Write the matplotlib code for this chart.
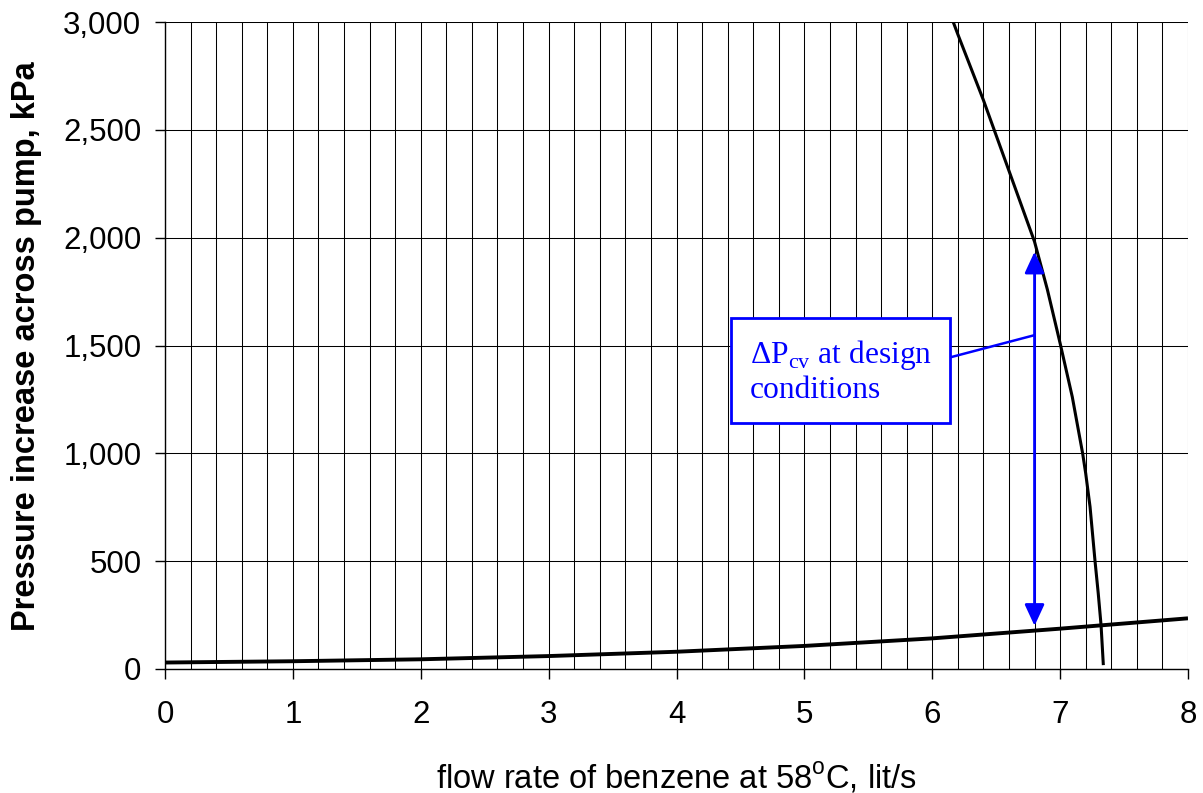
import matplotlib
matplotlib.use("Agg")
import matplotlib.pyplot as plt
from matplotlib.ticker import MultipleLocator, FuncFormatter

plt.rcParams['font.family'] = ['Liberation Sans', 'DejaVu Sans']
plt.rcParams['mathtext.fontset'] = 'custom'
plt.rcParams['mathtext.rm'] = 'Liberation Serif'
plt.rcParams['mathtext.sf'] = 'Liberation Sans'

# system curve (flow lit/s, kPa)
sys_flow = [0, 1, 2, 3, 4, 5, 6, 7, 8]
sys_dp = [30, 36, 45, 60, 80, 107, 142, 187, 235]

# pump curve
pump_flow = [6.164, 6.2, 6.4, 6.6, 6.8, 6.9, 7.0, 7.095, 7.176, 7.2, 7.234, 7.273, 7.298, 7.32, 7.338]
pump_dp = [3000, 2943, 2638, 2310, 1981, 1760, 1510, 1262, 1000, 907, 752, 500, 351, 204, 18]

# design point / dP_cv arrow
q_design = 6.8
dp_low, dp_high = 200, 1935

fig = plt.figure(figsize=(12.03, 7.93), dpi=100)
ax = fig.add_axes([165/1203, 1-669/793, 1023/1203, 647/793])

ax.plot(sys_flow, sys_dp, color='black', lw=2.8, solid_capstyle='butt')
ax.plot(pump_flow, pump_dp, color='black', lw=2.2, solid_capstyle='butt')

ax.set_xlim(0, 8)
ax.set_ylim(0, 3000)
ax.xaxis.set_major_locator(MultipleLocator(1))
ax.xaxis.set_minor_locator(MultipleLocator(0.2))
ax.yaxis.set_major_locator(MultipleLocator(500))
ax.yaxis.set_major_formatter(FuncFormatter(lambda v, p: f'{v:,.0f}'))

ax.grid(True, which='both', axis='x', color='black', lw=0.75)
ax.grid(True, which='major', axis='y', color='black', lw=0.75)
ax.set_axisbelow(True)

for s in ['top', 'right']:
    ax.spines[s].set_visible(False)
for s in ['left', 'bottom']:
    ax.spines[s].set_linewidth(1.0)

ax.tick_params(axis='both', which='major', direction='out', length=7, width=1,
               labelsize=22.5, color='black')
ax.tick_params(axis='x', which='major', pad=15)
ax.tick_params(axis='y', which='major', pad=10)
ax.tick_params(axis='x', which='minor', length=0)

fig.text(27/1203, 1-346/793, 'Pressure increase across pump, kPa', rotation=90,
         ha='center', va='center', fontsize=23.5, fontweight='bold')
fig.text(676/1203, 1-788/793, r'flow rate of benzene at 58$^{\mathsf{o}}$C, lit/s',
         ha='center', va='baseline', fontsize=23.5)

# dP_cv arrow
ax.annotate('', xy=(q_design, dp_high), xytext=(q_design, dp_low),
            arrowprops=dict(arrowstyle='<|-|>,head_length=0.65,head_width=0.3',
                            mutation_scale=20, color='blue', lw=2,
                            shrinkA=0, shrinkB=0))

# label box with leader line
ax.annotate('$\\Delta$P$_{\\mathrm{cv}}$ at design\nconditions',
            xy=(q_design, 1548), xytext=(5.283, 1379),
            family='Liberation Serif', fontsize=22.7, color='blue',
            ha='center', va='center', multialignment='left', linespacing=1.17,
            bbox=dict(boxstyle='square,pad=0.58', fc='white', ec='blue', lw=2),
            arrowprops=dict(arrowstyle='-', color='blue', lw=1.8,
                            shrinkA=0, shrinkB=0, relpos=(1.0, 0.64)))

fig.savefig('out.png', dpi=100)
